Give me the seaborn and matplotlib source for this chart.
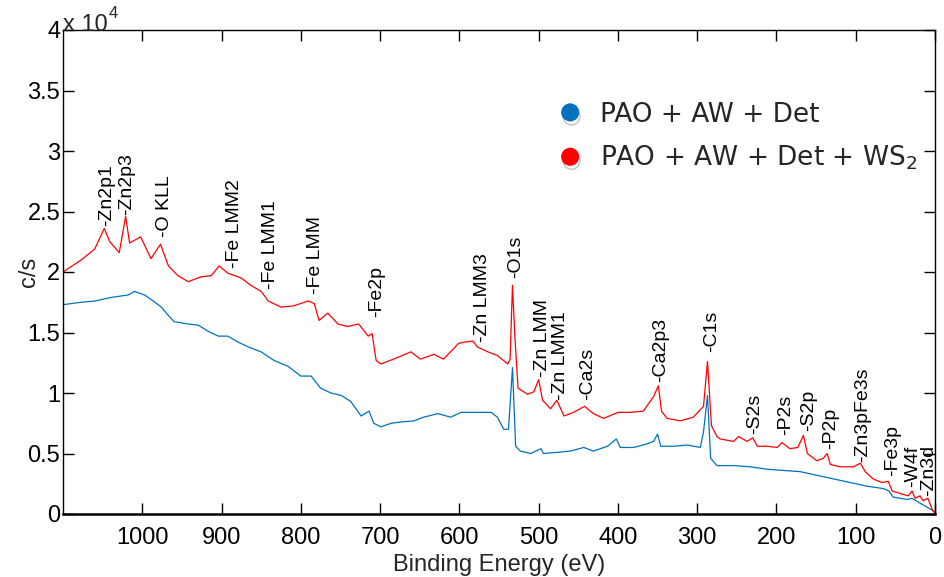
import matplotlib
matplotlib.use('Agg')
import matplotlib.pyplot as plt
import matplotlib.patheffects as pe
from matplotlib.lines import Line2D
from matplotlib.ticker import FuncFormatter
import pandas as pd
import seaborn as sns

# binding energy (eV) and intensity (c/s, in units of 1e4)
red_energy = [1100, 1077, 1060, 1048, 1041, 1029, 1021, 1016, 1002, 989, 982, 977, 967, 955,
              942, 926, 913, 903, 892, 875, 863, 850, 841, 825, 809, 791, 783, 777, 766, 753,
              741, 727, 715, 710, 705, 699, 683, 661, 649, 632, 620, 601, 594, 583, 577, 564,
              552, 539, 536, 533, 530, 526, 514, 506, 500, 495, 485, 477, 468, 456, 442, 431,
              418, 400, 384, 368, 355, 349, 345, 338, 321, 305, 292, 287, 282, 275, 271, 254,
              248, 237, 230, 224, 212, 199, 193, 183, 173, 166, 161, 149, 141, 136, 132, 120,
              103, 94, 88, 78, 67, 59, 54, 44, 34, 29, 25, 19, 15, 9, 3, 0]
red_cps = [2.00, 2.10, 2.19, 2.36, 2.25, 2.16, 2.46, 2.24, 2.29, 2.11, 2.18, 2.23, 2.05, 1.97,
           1.92, 1.96, 1.97, 2.05, 1.99, 1.95, 1.89, 1.84, 1.76, 1.71, 1.72, 1.76, 1.74, 1.60,
           1.66, 1.57, 1.55, 1.57, 1.47, 1.49, 1.27, 1.24, 1.28, 1.34, 1.28, 1.32, 1.28, 1.41,
           1.42, 1.43, 1.38, 1.34, 1.31, 1.24, 1.28, 1.89, 1.47, 1.04, 0.99, 1.01, 1.11, 0.94,
           0.87, 0.94, 0.81, 0.84, 0.89, 0.83, 0.79, 0.84, 0.84, 0.85, 0.97, 1.06, 0.85, 0.79,
           0.77, 0.80, 0.89, 1.26, 0.73, 0.64, 0.62, 0.60, 0.64, 0.60, 0.63, 0.56, 0.56, 0.55,
           0.59, 0.54, 0.55, 0.65, 0.50, 0.44, 0.46, 0.50, 0.41, 0.39, 0.39, 0.42, 0.35, 0.29,
           0.26, 0.27, 0.19, 0.17, 0.15, 0.19, 0.13, 0.15, 0.11, 0.13, 0.03, 0.01]

blue_energy = [1100, 1077, 1060, 1039, 1018, 1010, 997, 986, 976, 967, 960, 942, 929, 917,
               904, 892, 879, 866, 850, 834, 816, 800, 787, 775, 762, 749, 737, 724, 714, 708,
               699, 686, 674, 657, 645, 627, 611, 598, 582, 560, 552, 544, 538, 533, 529, 523,
               510, 497, 494, 476, 460, 443, 431, 413, 402, 397, 380, 363, 355, 350, 346, 330,
               312, 296, 292, 287, 283, 275, 254, 233, 212, 191, 170, 149, 128, 107, 86, 65,
               58, 53, 35, 29, 19, 3, 0]
blue_cps = [1.73, 1.75, 1.76, 1.79, 1.81, 1.84, 1.81, 1.76, 1.71, 1.64, 1.59, 1.57, 1.56, 1.51,
            1.47, 1.47, 1.42, 1.38, 1.34, 1.27, 1.22, 1.14, 1.14, 1.04, 1.00, 0.98, 0.93, 0.81,
            0.85, 0.75, 0.72, 0.75, 0.76, 0.77, 0.80, 0.83, 0.80, 0.84, 0.84, 0.84, 0.80, 0.70,
            0.70, 1.21, 0.56, 0.52, 0.50, 0.54, 0.50, 0.51, 0.52, 0.55, 0.52, 0.56, 0.62, 0.55,
            0.55, 0.58, 0.60, 0.66, 0.56, 0.56, 0.57, 0.55, 0.68, 0.98, 0.46, 0.40, 0.40, 0.39,
            0.37, 0.36, 0.35, 0.32, 0.29, 0.26, 0.23, 0.21, 0.19, 0.14, 0.12, 0.13, 0.09, 0.03,
            0.01]

series_names = ['PAO + AW + Det', 'PAO + AW + Det + WS$_2$']
series_colors = ['#0072bd', '#ff0000']

# peak annotations: label, energy, height of label foot
peak_names = ['-Zn2p1', '-Zn2p3', '-O KLL', '-Fe LMM2', '-Fe LMM1', '-Fe LMM', '-Fe2p',
              '-Zn LMM3', '-O1s', '-Zn LMM', '-Zn LMM1', '-Ca2s', '-Ca2p3', '-C1s', '-S2s',
              '-P2s', '-S2p', '-P2p', '-Zn3pFe3s', '-Fe3p', '-W4f', '-Zn3d']
peak_energy = [1045, 1020, 972, 884, 838, 781, 705, 571, 529, 495, 472, 438, 346, 282, 228,
               189, 160, 132, 91, 53, 28, 8]
peak_y = [2.38, 2.47, 2.29, 2.03, 1.86, 1.82, 1.63, 1.42, 1.95, 1.13, 0.94, 0.94, 1.09, 1.34,
          0.66, 0.65, 0.69, 0.54, 0.43, 0.31, 0.22, 0.15]

df = pd.concat([
    pd.DataFrame({'energy': blue_energy, 'cps': blue_cps, 'sample': series_names[0]}),
    pd.DataFrame({'energy': red_energy, 'cps': red_cps, 'sample': series_names[1]}),
], ignore_index=True)

sns.set_style('ticks')
plt.rcParams['font.family'] = ['Liberation Sans', 'DejaVu Sans']
plt.rcParams['mathtext.fontset'] = 'custom'
plt.rcParams['mathtext.rm'] = 'DejaVu Sans'

fig = plt.figure(figsize=(9.45, 5.77), dpi=100)
ax = fig.add_axes([63 / 945, 1 - 514 / 577, 872 / 945, 484 / 577])

sns.lineplot(data=df, x='energy', y='cps', hue='sample', palette=series_colors,
             hue_order=series_names, estimator=None, linewidth=0.9, legend=False, ax=ax)

for name, e, y in zip(peak_names, peak_energy, peak_y):
    ax.text(e, y, name, rotation=90, ha='center', va='bottom', fontsize=14, color='black')

ax.set_xlim(1100, 0)
ax.set_ylim(0, 4)
ax.set_xticks(range(0, 1001, 100))
ax.set_yticks([i * 0.5 for i in range(9)])
ax.yaxis.set_major_formatter(FuncFormatter(lambda v, p: '%g' % v))
ax.tick_params(top=True, right=True, direction='in', length=8, width=1,
               labelsize=17, colors='black')
ax.tick_params(axis='x', pad=9)
ax.tick_params(axis='y', pad=2)
for s in ax.spines.values():
    s.set_visible(True)
    s.set_linewidth(1.0)
    s.set_color('black')
ax.spines['bottom'].set_linewidth(1.8)

ax.set_xlabel('Binding Energy (eV)', fontsize=17, labelpad=4)
ax.set_ylabel('c/s', fontsize=17)
ax.yaxis.set_label_coords(-0.026, 0.5)
ax.text(0.0, 1.01, 'x 10', transform=ax.transAxes, fontsize=17, va='center', ha='left')
ax.text(0.052, 1.035, '4', transform=ax.transAxes, fontsize=12, va='center', ha='left')

shadow = [pe.SimpleLineShadow(offset=(1, -3), shadow_color='gray', alpha=0.5), pe.Normal()]
handles = [Line2D([], [], marker='o', ls='', markersize=12, color=c, path_effects=shadow)
           for c in series_colors]
ax.legend(handles, series_names, loc='upper left', bbox_to_anchor=(0.5665, 0.852),
          frameon=False, prop={'family': 'DejaVu Sans', 'size': 19},
          handlelength=1.0, handletextpad=0.62,
          labelspacing=0.62, borderpad=0, borderaxespad=0)

fig.savefig('out.png', dpi=100)
